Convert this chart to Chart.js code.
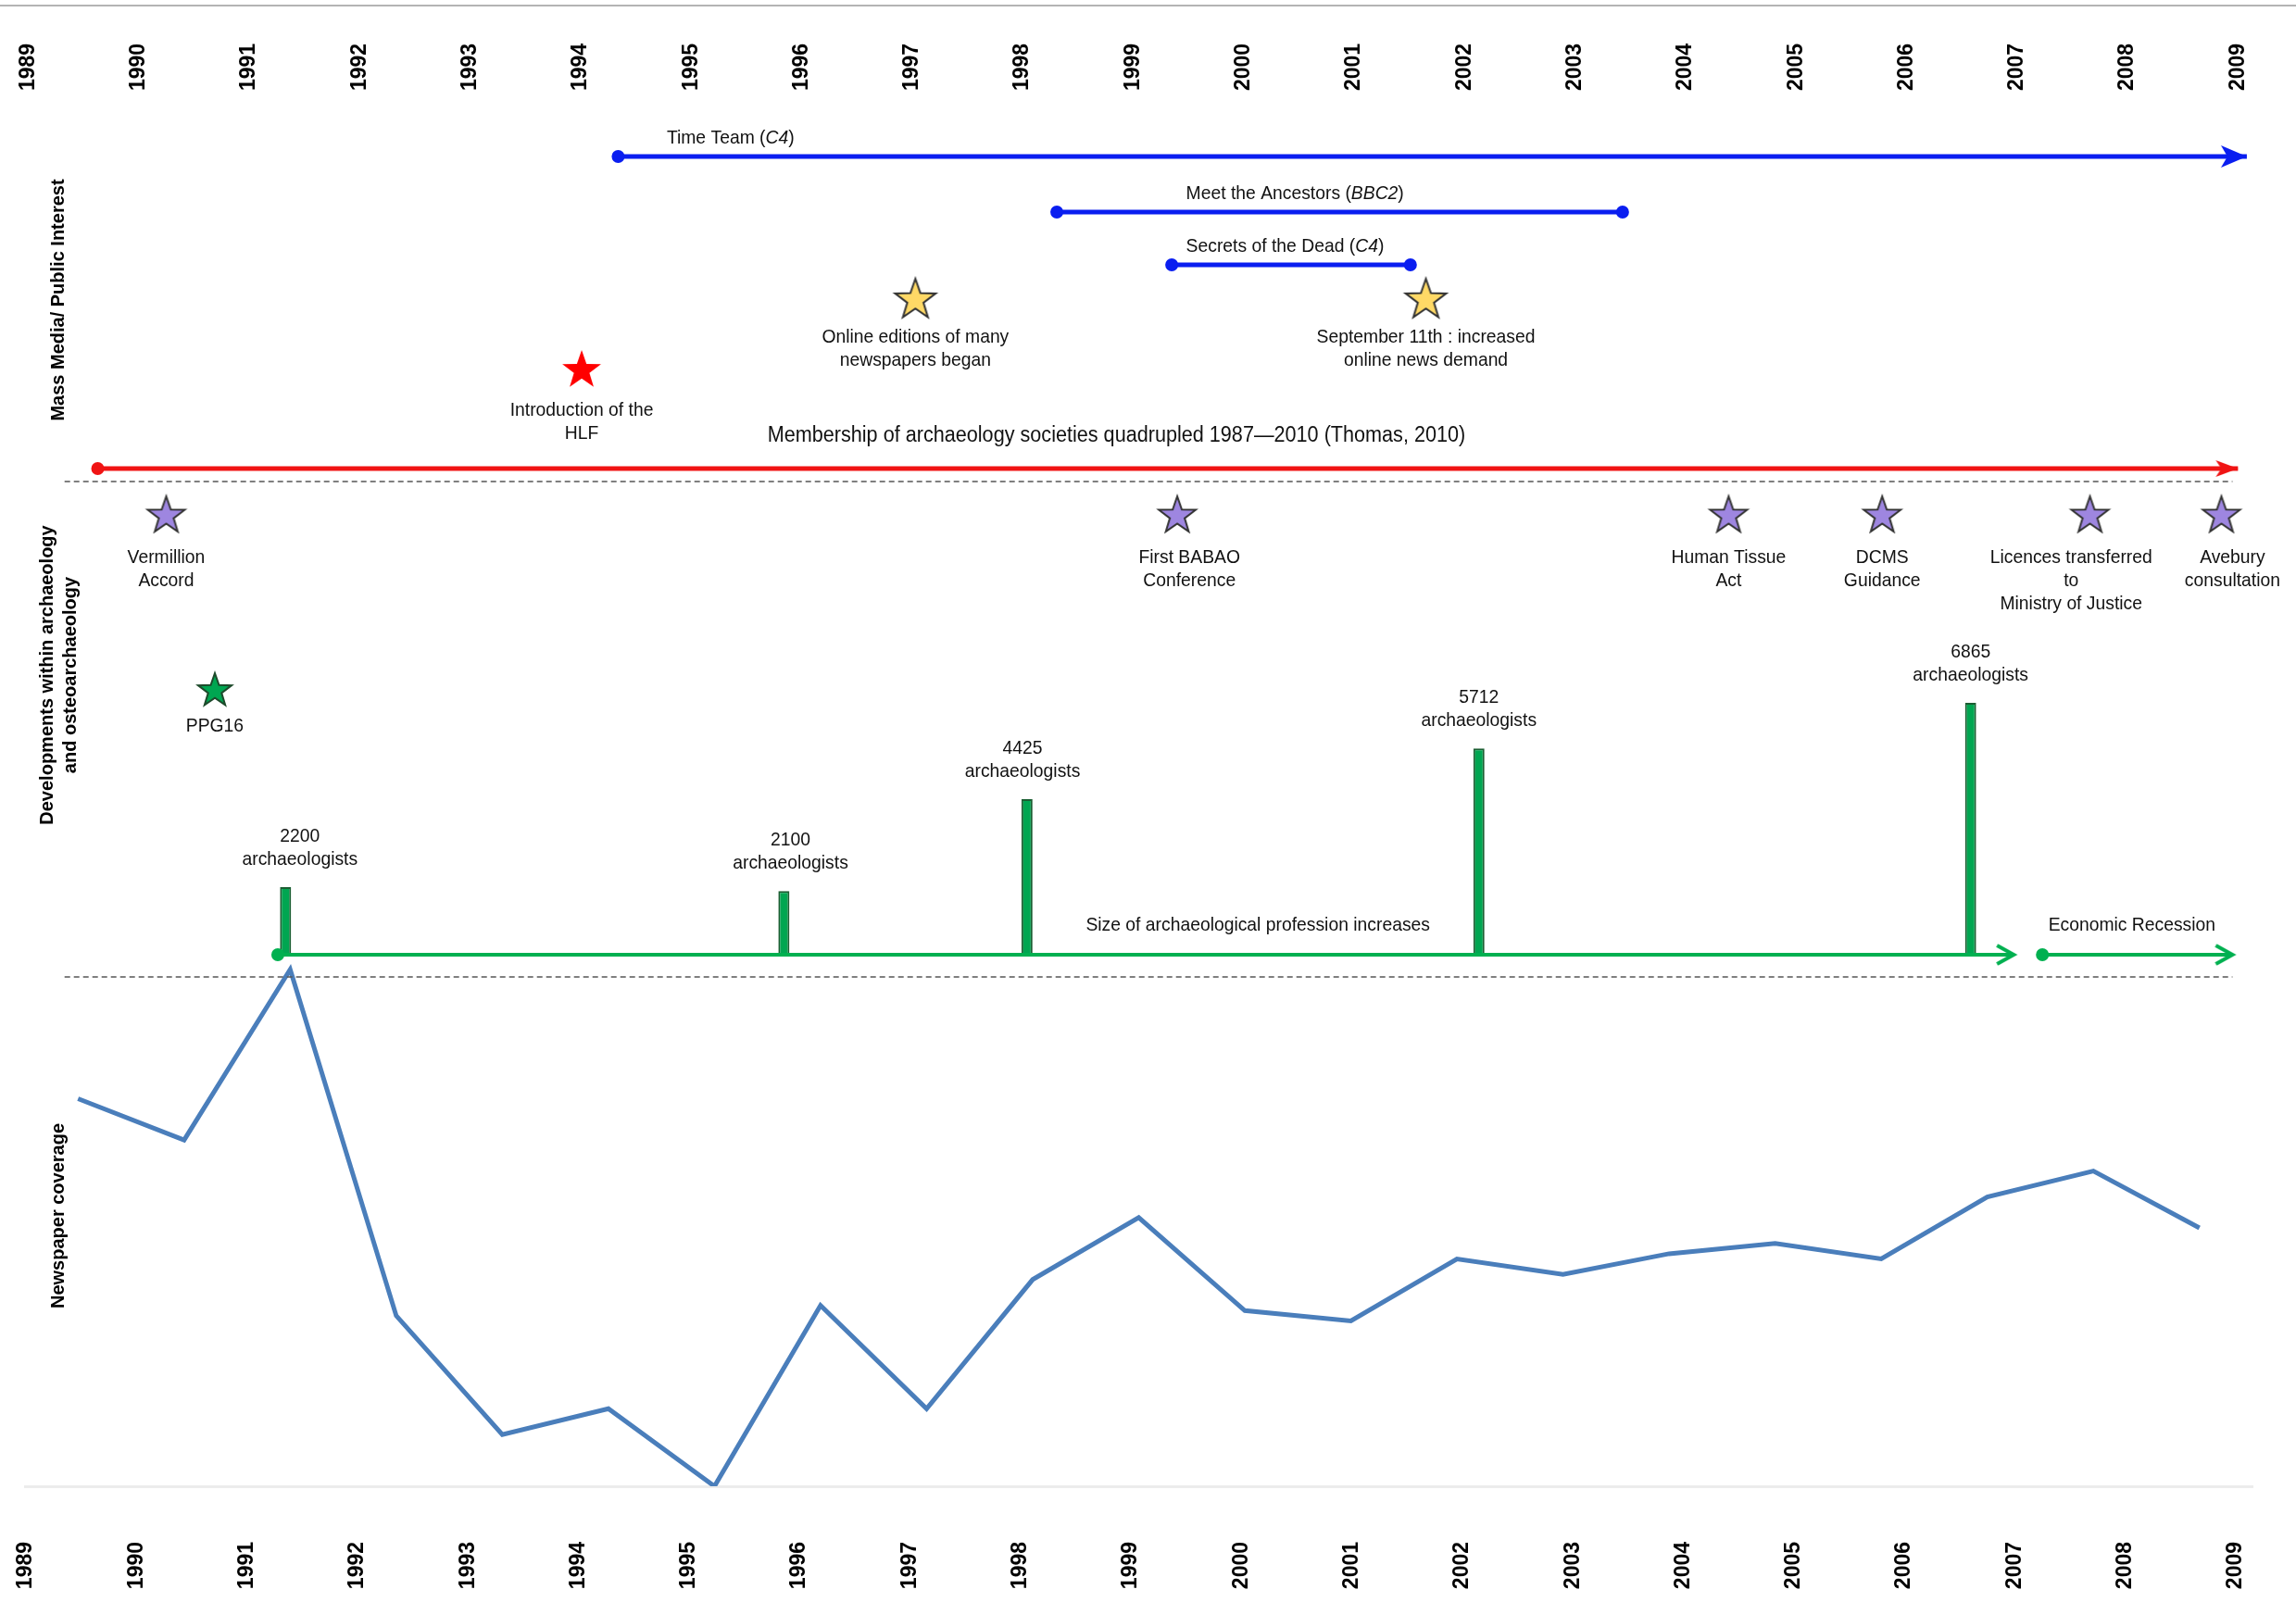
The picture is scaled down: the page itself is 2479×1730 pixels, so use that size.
<!DOCTYPE html>
<html>
<head>
<meta charset="utf-8">
<title>Archaeology timeline 1989-2009</title>
<script src="https://cdn.jsdelivr.net/npm/chart.js@4.4.1/dist/chart.umd.min.js"></script>
<style>
  html, body { margin: 0; padding: 0; background: #fff; }
  #wrap { width: 2479px; height: 1730px; }
</style>
</head>
<body>
<div id="wrap"><canvas id="timeline" width="2479" height="1730"></canvas></div>
<script>
/* ---- data ---- */
const YEARS = [1989, 1990, 1991, 1992, 1993, 1994, 1995, 1996, 1997, 1998, 1999,
               2000, 2001, 2002, 2003, 2004, 2005, 2006, 2007, 2008, 2009];

// newspaper coverage, one value per year (relative units)
const COVERAGE = [75, 67, 100, 33, 10, 15, 0, 35, 15, 40, 52, 34, 32, 44, 41, 45, 47, 44, 56, 61, 50];

const TV_TITLES = ['Time Team (*C4*)', 'Meet the Ancestors (*BBC2*)', 'Secrets of the Dead (*C4*)'];
const TV_START = [1994.36, 1998.33, 1999.37];
const TV_END = [2009.1, 2003.45, 2001.53];
const TV_ONGOING = [true, false, false];
const TV_LABEL_FROM = [1994.8, 1999.5, 1999.5];

const MEDIA_EVENTS = ['Online editions of many\nnewspapers began', 'September 11th : increased\nonline news demand'];
const MEDIA_YEARS = [1997.05, 2001.67];
const HLF_EVENT = ['Introduction of the\nHLF'];
const HLF_YEAR = [1994.03];

const MEMBERSHIP_TEXT = 'Membership of archaeology societies quadrupled 1987\u20142010 (Thomas, 2010)';
const MEMBERSHIP_SPAN = [1989.65, 2009.02];
const MEMBERSHIP_LABEL_AT = 1998.87;

const DEV_EVENTS = ['Vermillion\nAccord', 'First BABAO\nConference', 'Human Tissue\nAct', 'DCMS\nGuidance',
                    'Licences transferred\nto\nMinistry of Justice', 'Avebury\nconsultation'];
const DEV_YEARS = [1990.27, 1999.42, 2004.41, 2005.8, 2007.68, 2008.87];
const DEV_LABEL_AT = [1990.27, 1999.53, 2004.41, 2005.8, 2007.51, 2008.97];

const PPG_EVENT = ['PPG16'];
const PPG_YEAR = [1990.71];

const STAFF_YEARS = [1991.35, 1995.86, 1998.06, 2002.15, 2006.6];
const STAFF_COUNTS = [2200, 2100, 4425, 5712, 6865];
const STAFF_LABEL_AT = [1991.48, 1995.92, 1998.02, 2002.15, 2006.6];
const STAFF_BASE = 489;

const GROWTH_TEXT = 'Size of archaeological profession increases';
const GROWTH_SPAN = [1991.28, 2006.99];
const GROWTH_LABEL_AT = 2000.15;
const RECESSION_TEXT = 'Economic Recession';
const RECESSION_SPAN = [2007.25, 2008.97];
const RECESSION_LABEL_AT = 2008.06;

/* ---- layout ---- */
const W = 2479, H = 1730;
const PLOT = { left: 27, right: 2432, top: 110, bottom: 1605 };
const YEAR_MIN = 1988.992, YEAR_MAX = 2009.151;
const DIVIDER_SPAN = [1989.35, 2008.97];
const ROW = {
  tv: [169, 229, 286], online: 324, hlf: 400, membershipText: 471, membership: 506,
  divider1: 520, dev: 557, ppg: 746, growthText: 999, growth: 1031, divider2: 1055
};
const STAFF_PX = 0.04266;   // pixels per archaeologist
const COVERAGE_PX = 5.58;   // pixels per coverage unit

const BLUE = '#0a1ef0', RED = '#f01414', GREEN = '#00b050', LINE_BLUE = '#4a7ebb';
const AXIS_FONT = '"Liberation Sans", Arial, sans-serif';
const NOTE_FONT = '"Liberation Sans", Arial, sans-serif';
const NOTE_SIZE = 21, NOTE_SQUEEZE = 0.92;

/* ---- marker images ---- */
function starImage(r, fill, stroke) {
  const size = Math.ceil(2 * r + 6);
  const c = document.createElement('canvas');
  c.width = c.height = size;
  const g = c.getContext('2d');
  g.beginPath();
  for (let k = 0; k < 10; k++) {
    const rad = k % 2 ? r * 0.4 : r;
    const a = -Math.PI / 2 + k * Math.PI / 5;
    const px = size / 2 + rad * Math.cos(a), py = size / 2 + rad * Math.sin(a);
    if (k) g.lineTo(px, py); else g.moveTo(px, py);
  }
  g.closePath();
  g.fillStyle = fill;
  g.fill();
  if (stroke) { g.strokeStyle = stroke; g.lineWidth = 2; g.stroke(); }
  return c;
}

function arrowImage(len, half, color, open) {
  const c = document.createElement('canvas');
  c.width = 2 * len + 8;
  c.height = 2 * half + 8;
  const g = c.getContext('2d');
  const cx = c.width / 2, cy = c.height / 2;
  g.beginPath();
  g.moveTo(cx - len, cy - half);
  g.lineTo(cx, cy);
  g.lineTo(cx - len, cy + half);
  if (open) {
    g.strokeStyle = color; g.lineWidth = 4; g.stroke();
  } else {
    g.lineTo(cx - len * 0.75, cy);
    g.closePath(); g.fillStyle = color; g.fill();
  }
  return c;
}

const blueArrow = arrowImage(28, 12, BLUE, false);
const redArrow = arrowImage(24, 9, RED, false);
const greenArrow = arrowImage(18, 10, GREEN, true);
const yellowStar = starImage(23, '#ffd966', '#333');
const redStar = starImage(22, '#ff0000', null);
const purpleStar = starImage(21, '#9e86e0', '#333');
const greenStar = starImage(19, '#00a651', '#1d4a2b');

/* ---- datasets ---- */
function span(range, row) {
  return [{ x: range[0], y: row }, { x: range[1], y: row }];
}

function spanLine(data, color, width, startStyle, endStyle) {
  return {
    type: 'line', xAxisID: 'x', yAxisID: 'lane', data: data,
    borderColor: color, borderWidth: width,
    pointStyle: [startStyle, endStyle],
    pointRadius: [startStyle === 'circle' ? 7 : 1, endStyle === 'circle' ? 7 : 1],
    pointBackgroundColor: color, pointBorderWidth: 0
  };
}

function stars(years, row, image) {
  return {
    type: 'line', xAxisID: 'x', yAxisID: 'lane', showLine: false,
    data: years.map(x => ({ x: x, y: row })),
    pointStyle: image, pointRadius: 10
  };
}

const datasets = [];
TV_TITLES.forEach((t, i) => {
  datasets.push(spanLine(span([TV_START[i], TV_END[i]], ROW.tv[i]), BLUE, 5,
    'circle', TV_ONGOING[i] ? blueArrow : 'circle'));
});
datasets.push(spanLine(span(MEMBERSHIP_SPAN, ROW.membership), RED, 5, 'circle', redArrow));
datasets.push(spanLine(span(GROWTH_SPAN, ROW.growth), GREEN, 4, 'circle', greenArrow));
datasets.push(spanLine(span(RECESSION_SPAN, ROW.growth), GREEN, 4, 'circle', greenArrow));
[ROW.divider1, ROW.divider2].forEach(row => {
  datasets.push({
    type: 'line', xAxisID: 'x', yAxisID: 'lane', data: span(DIVIDER_SPAN, row),
    borderColor: '#555', borderWidth: 1.5, borderDash: [6, 4], pointRadius: 0
  });
});
datasets.push(stars(MEDIA_YEARS, ROW.online, yellowStar));
datasets.push(stars(HLF_YEAR, ROW.hlf, redStar));
datasets.push(stars(DEV_YEARS, ROW.dev, purpleStar));
datasets.push(stars(PPG_YEAR, ROW.ppg, greenStar));
datasets.push({
  type: 'bar', xAxisID: 'x', yAxisID: 'staff',
  data: STAFF_YEARS.map((x, i) => ({ x: x, y: STAFF_COUNTS[i] })),
  base: STAFF_BASE, grouped: false, maxBarThickness: 12,
  backgroundColor: '#00a651', borderColor: '#1b5e32', borderWidth: 2
});
datasets.push({
  type: 'line', xAxisID: 'xCov', yAxisID: 'cov', data: COVERAGE,
  borderColor: LINE_BLUE, borderWidth: 5, pointRadius: 0, tension: 0
});

/* ---- text drawn on top ---- */
function noteFont(size, italic) {
  return (italic ? 'italic ' : '') + size + 'px ' + NOTE_FONT;
}

// narrow-looking text: squeeze horizontally, *...* parts in italics
function richText(ctx, text, x, y, size, align) {
  const parts = text.split('*');
  const widths = parts.map((p, i) => { ctx.font = noteFont(size, i % 2 === 1); return ctx.measureText(p).width; });
  const total = widths.reduce((a, b) => a + b, 0) * NOTE_SQUEEZE;
  ctx.save();
  ctx.translate(align === 'center' ? x - total / 2 : x, y);
  ctx.scale(NOTE_SQUEEZE, 1);
  ctx.textAlign = 'left';
  let cur = 0;
  parts.forEach((p, i) => {
    ctx.font = noteFont(size, i % 2 === 1);
    ctx.fillText(p, cur, 0);
    cur += widths[i];
  });
  ctx.restore();
}

function block(ctx, text, x, y, size) {
  text.split('\n').forEach((line, k) => richText(ctx, line, x, y + k * 25, size, 'center'));
}

function vertical(ctx, text, x, y) {
  ctx.save();
  ctx.translate(x, y);
  ctx.rotate(-Math.PI / 2);
  ctx.textAlign = 'center';
  ctx.font = 'bold 20px ' + AXIS_FONT;
  ctx.fillText(text, 0, 0);
  ctx.restore();
}

const annotations = {
  id: 'annotations',
  beforeDraw(chart) {
    const ctx = chart.ctx;
    ctx.save();
    ctx.fillStyle = '#fff';
    ctx.fillRect(0, 0, chart.width, chart.height);
    ctx.fillStyle = '#b4b4b4';
    ctx.fillRect(0, 5, chart.width, 2);
    ctx.restore();
  },
  afterDatasetsDraw(chart) {
    const { ctx, scales } = chart;
    const X = v => scales.x.getPixelForValue(v);
    const Y = v => scales.lane.getPixelForValue(v);
    ctx.save();
    ctx.fillStyle = '#111';
    ctx.textBaseline = 'middle';

    TV_TITLES.forEach((t, i) => richText(ctx, t, X(TV_LABEL_FROM[i]), Y(ROW.tv[i] - 20), NOTE_SIZE, 'left'));
    MEDIA_EVENTS.forEach((t, i) => block(ctx, t, X(MEDIA_YEARS[i]), Y(ROW.online + 40), NOTE_SIZE));
    HLF_EVENT.forEach((t, i) => block(ctx, t, X(HLF_YEAR[i]), Y(ROW.hlf + 43), NOTE_SIZE));
    richText(ctx, MEMBERSHIP_TEXT, X(MEMBERSHIP_LABEL_AT), Y(ROW.membershipText), 23.5, 'center');
    DEV_EVENTS.forEach((t, i) => block(ctx, t, X(DEV_LABEL_AT[i]), Y(ROW.dev + 45), NOTE_SIZE));
    PPG_EVENT.forEach((t, i) => block(ctx, t, X(PPG_YEAR[i]), Y(ROW.ppg + 38), NOTE_SIZE));

    STAFF_COUNTS.forEach((n, i) => {
      const top = scales.staff.getPixelForValue(n);
      block(ctx, n + '\narchaeologists', X(STAFF_LABEL_AT[i]), top - 55, NOTE_SIZE);
    });
    richText(ctx, GROWTH_TEXT, X(GROWTH_LABEL_AT), Y(ROW.growthText), NOTE_SIZE, 'center');
    richText(ctx, RECESSION_TEXT, X(RECESSION_LABEL_AT), Y(ROW.growthText), NOTE_SIZE, 'center');

    ctx.fillStyle = '#000';
    vertical(ctx, 'Mass Media/ Public Interest', 63, Y(324));
    vertical(ctx, 'Developments within archaeology', 51, Y(729));
    vertical(ctx, 'and osteoarchaeology', 76, Y(729));
    vertical(ctx, 'Newspaper coverage', 63, Y(1313));
    ctx.restore();
  }
};

/* ---- year axes ---- */
function yearAxis(position, padding, labelShift, fitHeight, showBorder) {
  return {
    type: 'linear', position: position, min: YEAR_MIN, max: YEAR_MAX, offset: false,
    afterBuildTicks: s => { s.ticks = YEARS.map(v => ({ value: v })); },
    afterFit: s => { s.height = fitHeight; s.paddingLeft = 0; s.paddingRight = 0; },
    ticks: {
      autoSkip: false, minRotation: 90, maxRotation: 90, padding: padding, labelOffset: labelShift,
      color: '#000', font: { family: AXIS_FONT, size: 23, weight: 'bold' },
      callback: v => String(v)
    },
    grid: { display: false, drawTicks: false, offset: false },
    border: { display: showBorder, color: '#ececec', width: 3 }
  };
}

new Chart(document.getElementById('timeline'), {
  type: 'line',
  data: { datasets: datasets },
  options: {
    responsive: false,
    devicePixelRatio: 1,
    animation: false,
    events: [],
    layout: { padding: { left: PLOT.left, right: W - PLOT.right, top: 0, bottom: 0 } },
    plugins: { legend: { display: false }, tooltip: { enabled: false } },
    scales: {
      x: yearAxis('bottom', 60, 0, H - PLOT.bottom, true),
      xTop: yearAxis('top', 12, 30, PLOT.top, false),
      xCov: { type: 'category', labels: YEARS.map(String), offset: true, display: false },
      lane: { type: 'linear', min: PLOT.top, max: PLOT.bottom, reverse: true, display: false },
      staff: {
        type: 'linear', display: false,
        min: STAFF_BASE - (PLOT.bottom - ROW.growth) / STAFF_PX,
        max: STAFF_BASE + (ROW.growth - PLOT.top) / STAFF_PX
      },
      cov: { type: 'linear', display: false, min: 0, max: (PLOT.bottom - PLOT.top) / COVERAGE_PX }
    }
  },
  plugins: [annotations]
});
</script>
</body>
</html>
